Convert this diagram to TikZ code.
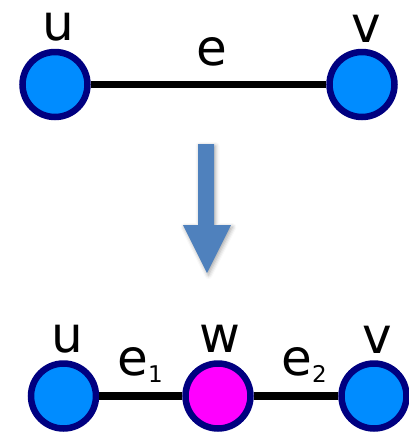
\documentclass[tikz,border=0pt]{standalone}
\usepackage{fontspec}
\setmainfont{DejaVu Sans}
\usetikzlibrary{shadows.blur}
\definecolor{vblue}{HTML}{008CFF}
\definecolor{vnavy}{HTML}{000080}
\definecolor{vpink}{HTML}{FF00FF}
\definecolor{arrowblue}{HTML}{4F81BD}
\tikzset{
  vertex/.style={circle, draw=vnavy, line width=6.5pt, minimum size=65pt, inner sep=0pt},
  plain/.style={vertex, fill=vblue},
  split/.style={vertex, fill=vpink},
  edge/.style={line width=7.5pt, black},
  lbl/.style={anchor=base, inner sep=0pt, font=\fontsize{50}{60}\selectfont},
  sub/.style={anchor=base west, inner sep=0pt, font=\fontsize{23}{28}\selectfont},
}
\begin{document}
\begin{tikzpicture}[x=1pt, y=-1pt]
\useasboundingbox (0,0) rectangle (408,432);

% original edge e = uv
\node[plain] (u1) at (55,84.5) {};
\node[plain] (v1) at (362,84.5) {};
\draw[edge] (u1) -- (v1);
\node[lbl] (lu1) at (58,40) {u};
\node[lbl] (lv1) at (366,42) {v};
\node[lbl] (le) at (212,65) {e};

% subdivision arrow
\fill[arrowblue, blur shadow={shadow xshift=1.5pt, shadow yshift=-2pt, shadow blur radius=4pt, shadow opacity=35}]
  (198,144) -- (214,144) -- (214,225) -- (231,225) -- (207,273) -- (183,225) -- (198,225) -- cycle;

% subdivided edge: e1 = uw, e2 = wv
\node[plain] (u2) at (63.5,396) {};
\node[split] (w2) at (218,396) {};
\node[plain] (v2) at (374,396) {};
\draw[edge] (u2) -- (w2);
\draw[edge] (w2) -- (v2);
\node[lbl] (lu2) at (67,352) {u};
\node[lbl] (lw2) at (220,352) {w};
\node[lbl] (lv2) at (377,353) {v};
\node[lbl, anchor=base east] (le1) at (148,375) {e};
\node[sub] (s1) at (le1.base east) [yshift=-7pt] {1};
\node[lbl, anchor=base east] (le2) at (312,375) {e};
\node[sub] (s2) at (le2.base east) [yshift=-7pt] {2};
\end{tikzpicture}
\end{document}
